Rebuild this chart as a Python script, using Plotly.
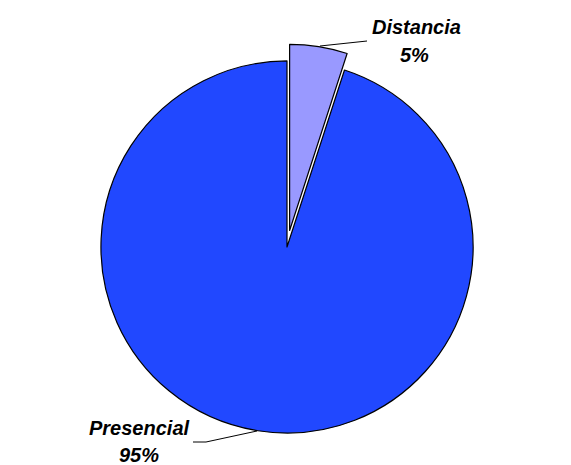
import plotly.graph_objects as go

categories = ["Distancia", "Presencial"]
values = [5, 95]
pct_text = ["5%", "95%"]

W, H = 571, 465

def px(x, y):
    return x / W, 1 - y / H

fig = go.Figure()
fig.add_trace(go.Pie(
    labels=categories,
    values=values,
    sort=False,
    direction="clockwise",
    rotation=0,
    pull=[0.09, 0],
    textinfo="none",
    hoverinfo="label+percent",
    marker=dict(colors=["#9999FF", "#2148FF"], line=dict(color="black", width=1.2)),
    domain=dict(x=[67 / W, 507 / W], y=[1 - 449.8 / H, 1 - 44.2 / H]),
    showlegend=False,
))

font = dict(family="Liberation Sans, Arial, sans-serif", size=20, color="black")

def label(text, cx, cy):
    xp, yp = px(cx, cy)
    fig.add_annotation(x=xp, y=yp, xref="paper", yref="paper",
                       text="<b><i>" + text + "</i></b>",
                       showarrow=False, font=font, xanchor="center", yanchor="middle")

label(categories[0], 416, 27)
label(pct_text[0], 414, 55)
label(categories[1], 139, 428)
label(pct_text[1], 139, 455)

# leader lines
def path(points):
    s = ""
    for i, (a, b) in enumerate(points):
        xp, yp = px(a, b)
        s += ("M" if i == 0 else "L") + f"{xp},{yp} "
    return s.strip()

fig.add_shape(type="path", xref="paper", yref="paper",
              path=path([(367, 41), (320, 46)]), line=dict(color="black", width=1))
fig.add_shape(type="path", xref="paper", yref="paper",
              path=path([(193, 442), (206, 442), (257, 431)]), line=dict(color="black", width=1))

fig.update_layout(
    width=W, height=H,
    margin=dict(l=0, r=0, t=0, b=0),
    paper_bgcolor="white",
    plot_bgcolor="white",
)

fig.write_html("out.html",
               config={"displayModeBar": False},
               post_script="document.body.style.margin='0';document.body.style.overflow='hidden';")
